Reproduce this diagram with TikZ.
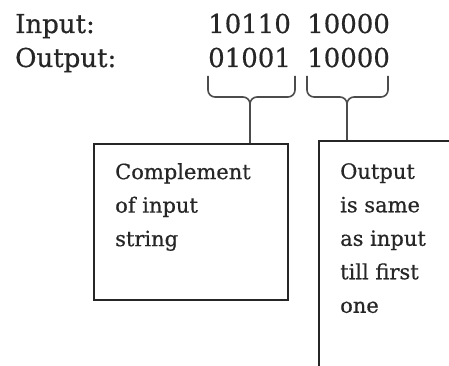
\documentclass[tikz,border=0pt]{standalone}
\usepackage{fontspec}
\setmainfont{DejaVu Serif}[BoldFont=DejaVu Serif,BoldFeatures={FakeBold=0.6}]
\usetikzlibrary{calc}

\begin{document}
\begin{tikzpicture}[x=1pt,y=-1pt,
  big/.style={font=\fontsize{26}{30}\selectfont\bfseries,inner sep=0pt,anchor=base west,text=black!85},
  note/.style={font=\fontsize{21}{33.5}\selectfont\bfseries,inner sep=0pt,anchor=north west,align=left,text=black!85},
  frame/.style={draw=black!85,line width=1.8pt,inner sep=0pt,anchor=north west},
  curly/.style={draw=black!70,line width=1.6pt,rounded corners=7pt}]
\useasboundingbox (0,0) rectangle (449,366);
\clip (0,0) rectangle (449,366);
% row labels
\node[big] (inlab) at (15,33) {Input:};
\node[big] (outlab) at (15,67) {Output:};
% bit groups
\node[big] (ina) at (208,33) {10110};
\node[big] (inb) at (307,33) {10000};
\node[big] (outa) at (208,67) {01001};
\node[big] (outb) at (307,67) {10000};
% boxes (the right one runs off the page)
\node[frame,minimum width=194pt,minimum height=156pt] (cbox) at (93,143) {};
\node[frame,minimum width=160pt,minimum height=260pt] (sbox) at (318,140) {};
\node[note] (ctext) at (115,163) {Complement\\of input\\string};
\node[note] (stext) at (340,163) {Output\\is same\\as input\\till first\\one};
% braces under the output bits
\coordinate (ltip) at (250,97);
\coordinate (rtip) at (347,97);
\draw[curly] (208,76) |- (ltip) -- (ltip |- cbox.north);
\draw[curly] (295,76) |- (ltip) -- (ltip |- cbox.north);
\draw[curly] (307,76) |- (rtip) -- (rtip |- sbox.north);
\draw[curly] (388,76) |- (rtip) -- (rtip |- sbox.north);
\end{tikzpicture}
\end{document}
